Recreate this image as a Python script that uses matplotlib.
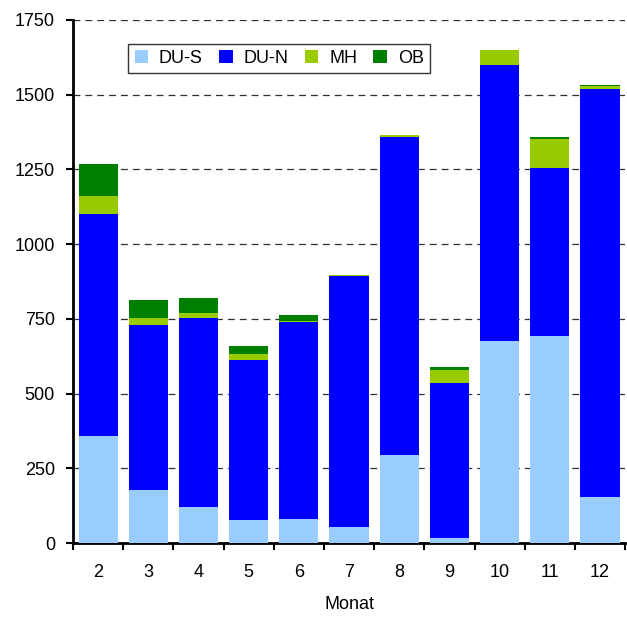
import matplotlib
matplotlib.use("Agg")
import matplotlib.pyplot as plt
import numpy as np

plt.rcParams['font.family'] = ['Liberation Sans', 'DejaVu Sans']

# Monat 2..12, Werte je Gruppe
months = [2, 3, 4, 5, 6, 7, 8, 9, 10, 11, 12]
du_s = [359, 177, 120, 77, 80, 54, 294, 17, 676, 693, 154]
du_n = [742, 552, 633, 535, 659, 839, 1064, 518, 924, 562, 1365]
mh = [60, 24, 17, 20, 4, 4, 6, 45, 50, 97, 11]
ob = [107, 60, 50, 27, 20, 0, 1, 9, 0, 6, 3]

series = [("DU-S", du_s, "#99CCFF"),
          ("DU-N", du_n, "#0000FF"),
          ("MH", mh, "#99CC00"),
          ("OB", ob, "#008000")]

fig = plt.figure(figsize=(6.27, 6.17), dpi=100)
ax = fig.add_axes([0.1164, 0.1199, 0.8806, 0.8477])

bottom = np.zeros(len(months))
for name, vals, col in series:
    ax.bar(months, vals, width=0.78, bottom=bottom, color=col, label=name, zorder=3)
    bottom += np.array(vals)

ax.set_xlim(1.5, 12.5)
ax.set_ylim(0, 1750)
ax.set_yticks(np.arange(0, 1751, 250))
ax.set_xticks(months)
ax.set_xticks(np.arange(1.5, 12.6, 1), minor=True)
ax.tick_params(axis='x', which='major', length=0, pad=15, labelsize=13)
ax.tick_params(axis='x', which='minor', length=5, width=1.5, direction='out')
ax.tick_params(axis='y', length=5, width=1.5, direction='out', labelsize=13, pad=8)

ax.yaxis.grid(True, linestyle=(0, (5.5, 4)), color='#303030', linewidth=0.9, zorder=0)
ax.set_axisbelow(True)

for s in ['top', 'right']:
    ax.spines[s].set_visible(False)
for s in ['left', 'bottom']:
    ax.spines[s].set_linewidth(2)

ax.set_xlabel("Monat", fontsize=13, labelpad=11)

leg = ax.legend(ncol=4, loc='upper left', bbox_to_anchor=(0.1, 0.955),
                fontsize=13, frameon=True, fancybox=False, edgecolor='black',
                handlelength=0.75, handleheight=0.75, handletextpad=0.6,
                columnspacing=0.9, borderpad=0.35, borderaxespad=0)
leg.get_frame().set_linewidth(1.0)
leg.set_zorder(5)

fig.savefig("out.png", dpi=100)
